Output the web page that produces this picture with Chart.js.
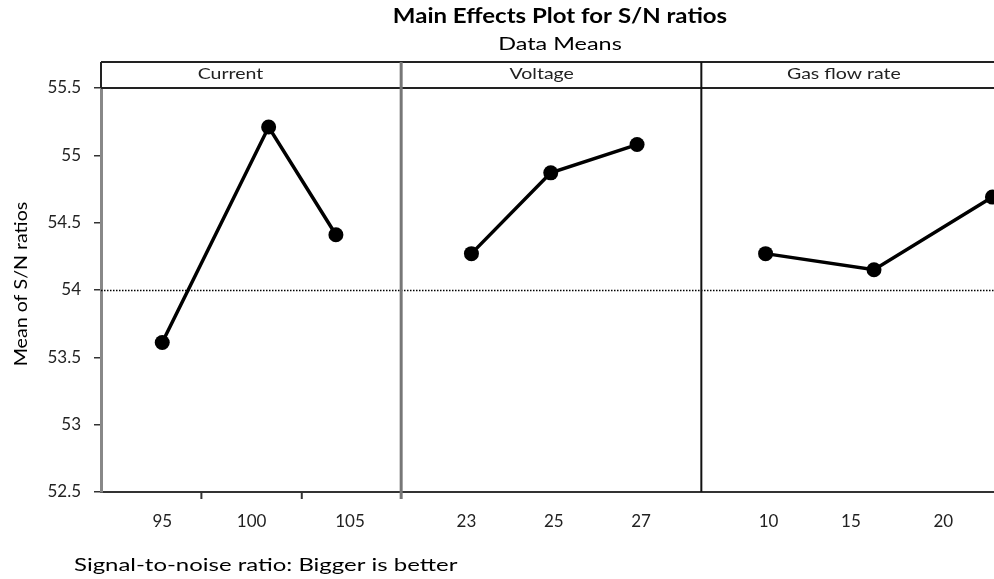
<!DOCTYPE html>
<html>
<head>
<meta charset="utf-8">
<script src="https://cdn.jsdelivr.net/npm/chart.js@4/dist/chart.umd.min.js"></script>
<style>
  html, body { margin: 0; padding: 0; background: #fff; overflow: hidden; }
  #wrap { width: 1012px; height: 579px; }
</style>
</head>
<body>
<div id="wrap"><canvas id="c" width="1012" height="579"></canvas></div>
<script>
// ---- Data ----
const factors = ["Current", "Voltage", "Gas flow rate"];
const currentLevels = ["95", "100", "105"];
const voltageLevels = ["23", "25", "27"];
const gasLevels = ["10", "15", "20"];
const currentSN = [53.61, 55.21, 54.41];
const voltageSN = [54.27, 54.87, 55.08];
const gasSN = [54.27, 54.15, 54.69];
// level positions along the shared x axis (each panel spans 3 units)
const currentPos = [0.61, 1.67, 2.34];
const voltagePos = [3.69, 4.48, 5.34];
const gasPos = [6.62, 7.70, 8.88];
// tick label positions (axis units)
const currentLabelPos = [0.61, 1.50, 2.48];
const voltageLabelPos = [3.64, 4.51, 5.38];
const gasLabelPos = [6.65, 7.47, 8.39];
const headerPos = [1.29, 4.39, 7.40];
const yTicks = [52.5, 53, 53.5, 54, 54.5, 55, 55.5];
const referenceMean = 54.0;

const FONT = "Lato, 'Open Sans', sans-serif";
const labelPositions = [...currentLabelPos, ...voltageLabelPos, ...gasLabelPos];
const labelTexts = [...currentLevels, ...voltageLevels, ...gasLevels];

function mkData(pos, vals) { return pos.map((p, i) => ({ x: p, y: vals[i] })); }

const ds = (d) => ({
  data: d,
  borderColor: '#000',
  backgroundColor: '#000',
  borderWidth: 3.5,
  pointRadius: 7.5,
  pointHoverRadius: 7.5,
  pointBackgroundColor: '#000',
  pointBorderColor: '#000',
  pointBorderWidth: 0,
  tension: 0,
  clip: false
});

// text drawn with a horizontal stretch (the reference text is wide-set)
function stretchedText(ctx, text, x, y, font, sx, align, color, rotate) {
  ctx.save();
  ctx.translate(x, y);
  if (rotate) ctx.rotate(rotate);
  ctx.scale(sx, 1);
  ctx.font = font;
  ctx.fillStyle = color;
  ctx.textAlign = align;
  ctx.textBaseline = 'middle';
  ctx.fillText(text, 0, 0);
  ctx.restore();
}

const decor = {
  id: 'decor',
  beforeDatasetsDraw(chart) {
    const { ctx, chartArea: a, scales: { x, y } } = chart;
    ctx.save();
    // dotted reference line
    ctx.strokeStyle = '#000';
    ctx.lineWidth = 1.3;
    ctx.setLineDash([1.5, 1.5]);
    const ym = Math.round(y.getPixelForValue(referenceMean)) + 0.5;
    ctx.beginPath(); ctx.moveTo(a.left, ym); ctx.lineTo(a.right, ym); ctx.stroke();
    ctx.setLineDash([]);
    // header band
    const hTop = a.top - 26;
    ctx.strokeStyle = '#222';
    ctx.lineWidth = 2;
    ctx.beginPath();
    ctx.moveTo(a.left, hTop); ctx.lineTo(a.right, hTop);
    ctx.moveTo(a.left, a.top); ctx.lineTo(a.right, a.top);
    ctx.moveTo(a.left, hTop); ctx.lineTo(a.left, a.top);
    ctx.stroke();
    // panel dividers
    const d1 = x.getPixelForValue(3) - 1, d2 = x.getPixelForValue(6) - 2;
    ctx.strokeStyle = '#777'; ctx.lineWidth = 3;
    ctx.beginPath(); ctx.moveTo(d1, hTop); ctx.lineTo(d1, a.bottom + 7); ctx.stroke();
    ctx.strokeStyle = '#111'; ctx.lineWidth = 2;
    ctx.beginPath(); ctx.moveTo(d2, hTop); ctx.lineTo(d2, a.bottom); ctx.stroke();
    // x tick marks in first panel
    ctx.strokeStyle = '#333'; ctx.lineWidth = 2;
    [1, 2].forEach(v => {
      const px = x.getPixelForValue(v);
      ctx.beginPath(); ctx.moveTo(px, a.bottom); ctx.lineTo(px, a.bottom + 7); ctx.stroke();
    });
    ctx.restore();
    // header labels
    factors.forEach((f, i) =>
      stretchedText(ctx, f, x.getPixelForValue(headerPos[i]), hTop + 12, '16px ' + FONT, 1.22, 'center', '#222'));
    // titles
    stretchedText(ctx, 'Main Effects Plot for S/N ratios', 560, 17, 'bold 20px ' + FONT, 1.2, 'center', '#000');
    stretchedText(ctx, 'Data Means', 560, 44, '18px ' + FONT, 1.3, 'center', '#000');
    // y axis title
    stretchedText(ctx, 'Mean of S/N ratios', 21, 284, '18px ' + FONT, 1.09, 'center', '#000', -Math.PI / 2);
    // footer
    stretchedText(ctx, 'Signal-to-noise ratio: Bigger is better', 74, 565, '18px ' + FONT, 1.33, 'left', '#000');
  }
};

new Chart(document.getElementById('c'), {
  type: 'line',
  data: {
    datasets: [
      ds(mkData(currentPos, currentSN)),
      ds(mkData(voltagePos, voltageSN)),
      ds(mkData(gasPos, gasSN))
    ]
  },
  options: {
    responsive: false,
    animation: false,
    events: [],
    layout: { padding: { top: 88, right: 2, left: 0, bottom: 0 } },
    plugins: { legend: { display: false }, tooltip: { enabled: false }, title: { display: false } },
    scales: {
      x: {
        type: 'linear',
        min: 0, max: 9,
        afterBuildTicks(axis) { axis.ticks = labelPositions.map(v => ({ value: v })); },
        afterFit(axis) { axis.height = 87; },
        ticks: {
          autoSkip: false,
          maxRotation: 0,
          padding: 19,
          color: '#222',
          font: { family: FONT, size: 17 },
          callback(value) {
            const i = labelPositions.indexOf(value);
            return i >= 0 ? labelTexts[i] : '';
          }
        },
        grid: { display: true, drawOnChartArea: false, drawTicks: false },
        border: { display: true, color: '#333', width: 2 }
      },
      y: {
        type: 'linear',
        min: 52.5, max: 55.5,
        afterBuildTicks(axis) { axis.ticks = yTicks.map(v => ({ value: v })); },
        afterFit(axis) { axis.width = 101; },
        ticks: {
          padding: 13,
          color: '#222',
          font: { family: FONT, size: 17 },
          callback: (v) => String(v)
        },
        grid: { drawOnChartArea: false, drawTicks: true, tickLength: 7, color: '#333', lineWidth: 1.5 },
        border: { display: true, color: '#888', width: 3 }
      }
    }
  },
  plugins: [decor]
});
</script>
</body>
</html>
